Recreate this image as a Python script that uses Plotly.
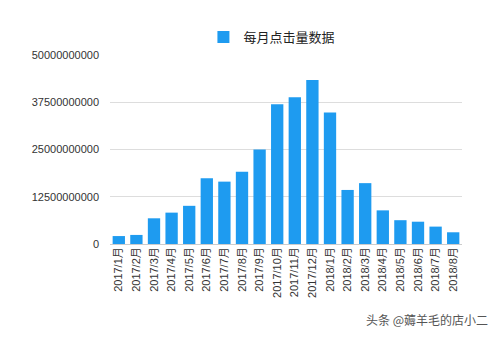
import plotly.graph_objects as go

# Monthly click counts, Jan 2017 – Aug 2018
months = [
    "2017/1月", "2017/2月", "2017/3月", "2017/4月", "2017/5月", "2017/6月",
    "2017/7月", "2017/8月", "2017/9月", "2017/10月", "2017/11月", "2017/12月",
    "2018/1月", "2018/2月", "2018/3月", "2018/4月", "2018/5月", "2018/6月",
    "2018/7月", "2018/8月",
]
clicks = [
    2.1e9, 2.4e9, 6.8e9, 8.3e9, 10.1e9, 17.4e9,
    16.5e9, 19.1e9, 25.0e9, 37.0e9, 38.8e9, 43.4e9,
    34.8e9, 14.3e9, 16.1e9, 8.9e9, 6.3e9, 5.9e9,
    4.6e9, 3.1e9,
]
series_name = "每月点击量数据"
y_ticks = [0, 12500000000, 25000000000, 37500000000, 50000000000]
y_tick_text = ["0", "12500000000", "25000000000", "37500000000", "50000000000"]

FONT = "Liberation Sans, Arial, Noto Sans CJK SC, sans-serif"

fig = go.Figure(
    go.Bar(
        x=months,
        y=clicks,
        name=series_name,
        marker=dict(color="#1e9bf0", line=dict(width=0)),
        showlegend=True,
    )
)

fig.update_layout(
    width=500,
    height=339,
    margin=dict(l=110, r=38, t=55, b=95),
    paper_bgcolor="white",
    plot_bgcolor="white",
    bargap=0.3,
    font=dict(family=FONT, size=11, color="#333333"),
    legend=dict(
        orientation="h",
        x=0.46,
        xanchor="center",
        y=1.095,
        yanchor="middle",
        font=dict(family="Noto Sans CJK SC, sans-serif", size=13, color="#222222"),
        itemsizing="constant",
        itemwidth=30,
        bgcolor="rgba(0,0,0,0)",
    ),
    xaxis=dict(
        tickangle=-90,
        showgrid=False,
        showline=False,
        ticks="",
        tickfont=dict(family=FONT, size=11, color="#333333"),
    ),
    yaxis=dict(
        range=[0, 5e10],
        tickvals=y_ticks,
        ticktext=y_tick_text,
        showgrid=True,
        gridcolor="#dddddd",
        gridwidth=1,
        zeroline=True,
        zerolinecolor="#cccccc",
        zerolinewidth=1,
        showline=False,
        ticks="",
        ticklabelstandoff=10,
        tickfont=dict(family=FONT, size=11, color="#333333"),
    ),
    annotations=[
        dict(
            text="头条 @薅羊毛的店小二",
            xref="paper",
            yref="paper",
            x=1.08,
            y=-0.40,
            xanchor="right",
            yanchor="middle",
            showarrow=False,
            font=dict(family="Noto Sans CJK SC, sans-serif", size=12, color="#555555"),
        )
    ],
)

fig.write_html("out.html")
